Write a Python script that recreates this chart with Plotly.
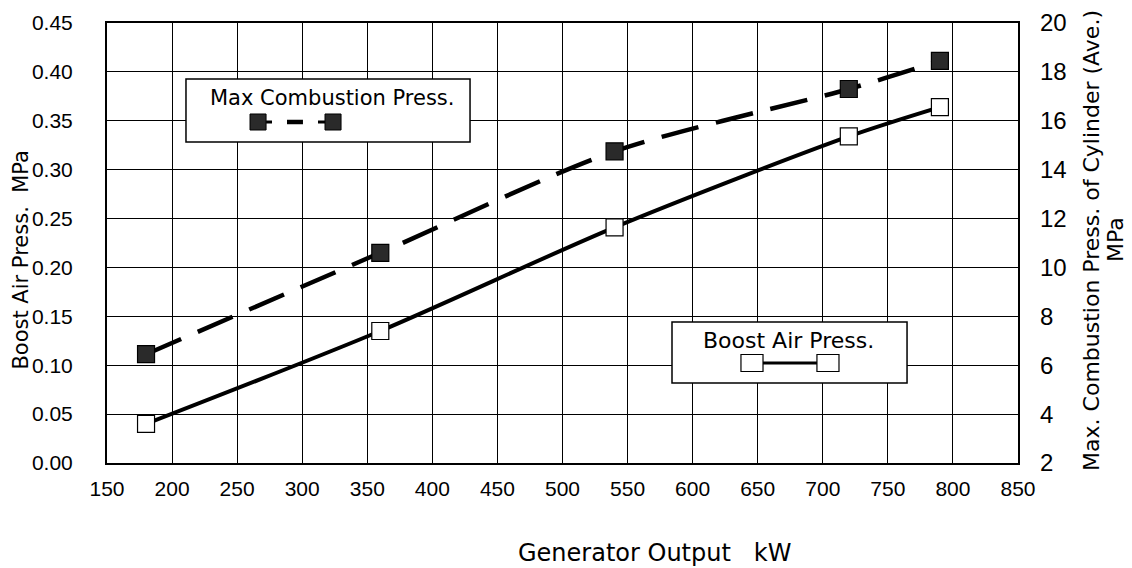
import plotly.graph_objects as go

# ---- data ----
output_kw = [180, 360, 540, 720, 790]
boost_air_mpa = [0.040, 0.135, 0.241, 0.334, 0.364]
max_comb_mpa = [6.45, 10.6, 14.75, 17.3, 18.45]

x_ticks = list(range(150, 851, 50))
left_ticks = [0.00, 0.05, 0.10, 0.15, 0.20, 0.25, 0.30, 0.35, 0.40, 0.45]
right_ticks = list(range(2, 21, 2))

NUM_FONT = "Liberation Sans, Arial, sans-serif"
TXT_FONT = "DejaVu Sans, sans-serif"
BLACK = "#000000"
FILL = "#2a2a2a"

fig = go.Figure()

# Boost air pressure (left axis): solid smooth line, open squares
fig.add_trace(go.Scatter(
    x=output_kw, y=boost_air_mpa, mode="lines",
    line=dict(color=BLACK, width=4, shape="spline", smoothing=0.8),
    showlegend=False, hoverinfo="skip"))
fig.add_trace(go.Scatter(
    x=output_kw, y=boost_air_mpa, mode="markers",
    marker=dict(symbol="square", size=17, color="white",
                line=dict(color=BLACK, width=1.2)),
    showlegend=False))

# Max combustion pressure (right axis): dashed smooth line, filled squares
fig.add_trace(go.Scatter(
    x=output_kw, y=max_comb_mpa, mode="lines", yaxis="y2",
    line=dict(color=BLACK, width=4.5, dash="38px,18px", shape="spline", smoothing=0.8),
    showlegend=False, hoverinfo="skip"))
fig.add_trace(go.Scatter(
    x=output_kw, y=max_comb_mpa, mode="markers", yaxis="y2",
    marker=dict(symbol="square", size=17, color=FILL,
                line=dict(color=BLACK, width=1.2)),
    showlegend=False))

shapes = []
annotations = []

def pline(x0, x1, y, width, dash="solid"):
    return dict(type="line", xref="paper", yref="paper", x0=x0, x1=x1, y0=y, y1=y,
                line=dict(color=BLACK, width=width, dash=dash), layer="above")

def prect(x0, x1, y0, y1, fill, lw):
    return dict(type="rect", xref="paper", yref="paper", x0=x0, x1=x1, y0=y0, y1=y1,
                line=dict(color=BLACK, width=lw), fillcolor=fill, layer="above")

# Legend box: Max Combustion Press.
shapes.append(prect(0.0867, 0.3985, 0.7295, 0.8727, "white", 1.5))
annotations.append(dict(text="Max Combustion Press.", xref="paper", yref="paper",
                        x=0.1109, y=0.8295, xanchor="left", yanchor="middle",
                        showarrow=False, font=dict(family=TXT_FONT, size=21, color=BLACK)))
ly = 0.775
shapes.append(pline(0.1746, 0.1811, ly, 3))
shapes.append(pline(0.1976, 0.2151, ly, 4.5))
shapes.append(pline(0.2316, 0.2393, ly, 3))
for xc in (0.1658, 0.2481):
    shapes.append(prect(xc - 0.0088, xc + 0.0088, ly - 0.0182, ly + 0.0182, FILL, 1))

# Legend box: Boost Air Press.
shapes.append(prect(0.6202, 0.8782, 0.1818, 0.3205, "white", 1.5))
annotations.append(dict(text="Boost Air Press.", xref="paper", yref="paper",
                        x=0.7486, y=0.2795, xanchor="center", yanchor="middle",
                        showarrow=False, font=dict(family=TXT_FONT, size=22, color=BLACK)))
by = 0.2273
shapes.append(pline(0.708, 0.7914, by, 3))
for xc in (0.708, 0.7914):
    shapes.append(prect(xc - 0.0121, xc + 0.0121, by - 0.0193, by + 0.0193, "white", 1.2))

# Axis titles
annotations.append(dict(text="Boost Air Press.  MPa", xref="paper", yref="paper",
                        x=-0.0944, y=0.46, xanchor="center", yanchor="middle",
                        textangle=-90, showarrow=False,
                        font=dict(family=TXT_FONT, size=21, color=BLACK)))
annotations.append(dict(text="Max. Combustion Press. of Cylinder (Ave.)",
                        xref="paper", yref="paper",
                        x=1.0812, y=0.507, xanchor="center", yanchor="middle",
                        textangle=-90, showarrow=False,
                        font=dict(family=TXT_FONT, size=22, color=BLACK)))
annotations.append(dict(text="MPa",
                        xref="paper", yref="paper",
                        x=1.1076, y=0.507, xanchor="center", yanchor="middle",
                        textangle=-90, showarrow=False,
                        font=dict(family=TXT_FONT, size=22, color=BLACK)))
annotations.append(dict(text="Generator Output   kW", xref="paper", yref="paper",
                        x=0.6015, y=-0.2045, xanchor="center", yanchor="middle",
                        showarrow=False,
                        font=dict(family=TXT_FONT, size=24, color=BLACK)))

fig.update_layout(
    width=1124, height=560,
    margin=dict(l=99, r=114, t=15, b=105, autoexpand=False),
    paper_bgcolor="white", plot_bgcolor="white",
    font=dict(family=NUM_FONT, color=BLACK, size=21),
    xaxis=dict(range=[150, 850], tickvals=x_ticks, ticktext=[str(v) for v in x_ticks],
               showgrid=True, gridcolor=BLACK, gridwidth=1,
               showline=True, linecolor=BLACK, linewidth=2, mirror=True,
               ticks="", ticklabelstandoff=6, zeroline=False,
               tickfont=dict(family=NUM_FONT, size=21, color=BLACK)),
    yaxis=dict(range=[0, 0.45], tickvals=left_ticks,
               ticktext=[f"{v:.2f}" for v in left_ticks],
               showgrid=True, gridcolor=BLACK, gridwidth=1,
               showline=True, linecolor=BLACK, linewidth=2, mirror=True,
               ticks="", ticklabelstandoff=28, zeroline=False,
               tickfont=dict(family=NUM_FONT, size=21, color=BLACK)),
    yaxis2=dict(range=[2, 20], tickvals=right_ticks,
                ticktext=[str(v) for v in right_ticks],
                overlaying="y", side="right", showgrid=False,
                ticks="", ticklabelstandoff=21, zeroline=False,
                tickfont=dict(family=NUM_FONT, size=24, color=BLACK)),
    shapes=shapes, annotations=annotations,
    showlegend=False,
)

fig.write_html("out.html")
